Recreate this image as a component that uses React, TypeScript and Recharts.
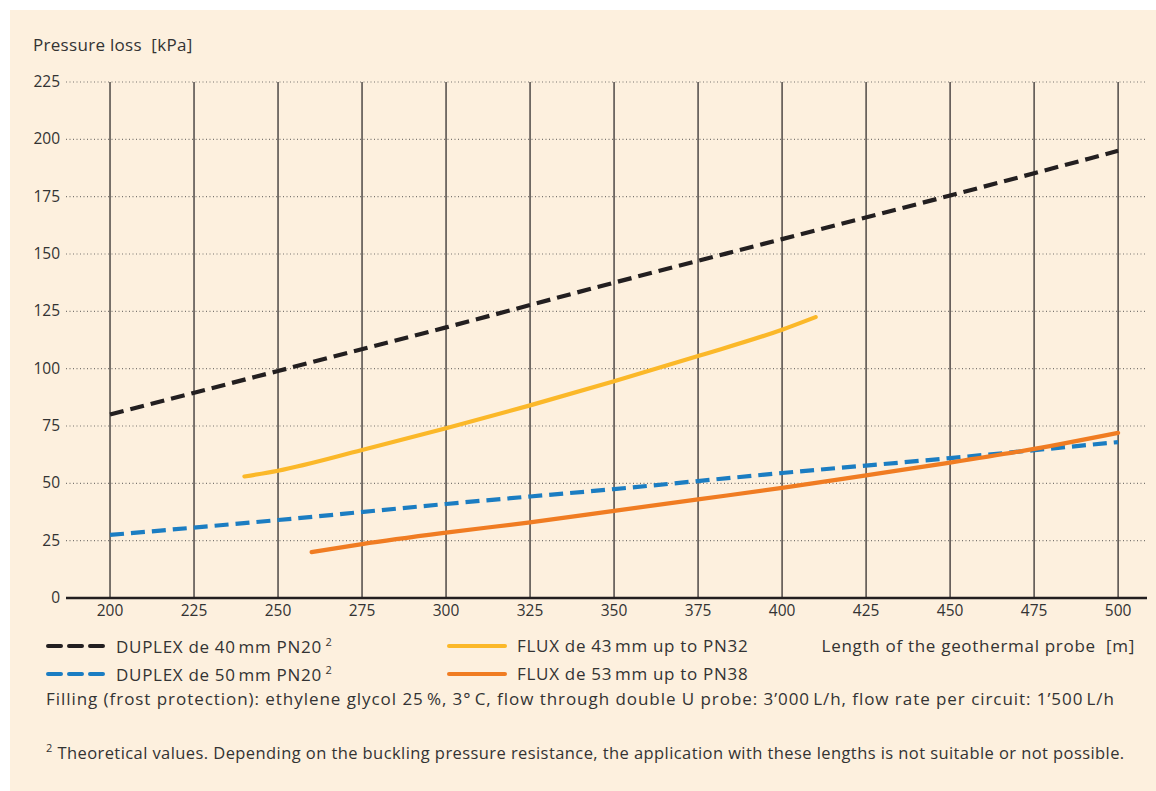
import { LineChart, Line, XAxis, YAxis, ReferenceLine } from "recharts";

const xTicks = [200, 225, 250, 275, 300, 325, 350, 375, 400, 425, 450, 475, 500];
const yTicks = [0, 25, 50, 75, 100, 125, 150, 175, 200, 225];

const duplex40 = [
  { x: 200, y: 80 },
  { x: 250, y: 99 },
  { x: 300, y: 118 },
  { x: 350, y: 137.5 },
  { x: 400, y: 156.5 },
  { x: 450, y: 175.5 },
  { x: 500, y: 195 },
];
const duplex50 = [
  { x: 200, y: 27.5 },
  { x: 250, y: 34 },
  { x: 300, y: 41 },
  { x: 350, y: 47.5 },
  { x: 400, y: 54.5 },
  { x: 450, y: 61 },
  { x: 500, y: 68 },
];
const flux43 = [
  { x: 240, y: 53 },
  { x: 250, y: 55.5 },
  { x: 275, y: 64.5 },
  { x: 300, y: 74 },
  { x: 325, y: 84 },
  { x: 350, y: 94.5 },
  { x: 375, y: 105.5 },
  { x: 400, y: 117 },
  { x: 410, y: 122.5 },
];
const flux53 = [
  { x: 260, y: 20 },
  { x: 275, y: 23.5 },
  { x: 300, y: 28.5 },
  { x: 325, y: 33 },
  { x: 350, y: 38 },
  { x: 375, y: 43 },
  { x: 400, y: 48 },
  { x: 425, y: 53.5 },
  { x: 450, y: 59 },
  { x: 475, y: 65 },
  { x: 500, y: 72 },
];

const BG = "#fdf0de";
const TXT = "#333333";
const FONT = "'Open Sans', sans-serif";
const BLACK = "#231f20";
const BLUE = "#1b7dc2";
const YELLOW = "#fbb829";
const ORANGE = "#f07c22";

function LegendLine({ color, dashed }: { color: string; dashed?: boolean }) {
  return (
    <svg width={60} height={8} style={{ position: "absolute", left: -70, top: 8 }}>
      <line
        x1={2}
        y1={4}
        x2={58}
        y2={4}
        stroke={color}
        strokeWidth={4}
        strokeLinecap="round"
        strokeDasharray={dashed ? "13 8" : undefined}
      />
    </svg>
  );
}

export default function App() {
  const txt = {
    position: "absolute" as const,
    fontFamily: FONT,
    fontSize: 17,
    letterSpacing: 0.7,
    color: TXT,
    whiteSpace: "nowrap" as const,
  };
  return (
    <div style={{ position: "fixed", left: 0, top: 0, width: 1156, height: 791, background: "#fff" }}>
      <div style={{ position: "absolute", left: 10, top: 10, width: 1146, height: 781, background: BG }} />
      <div style={{ ...txt, left: 33, top: 33, letterSpacing: 0.3 }}>Pressure loss&nbsp; [kPa]</div>
      <div style={{ position: "absolute", left: 0, top: 0 }}>
        <LineChart width={1156} height={791} data={duplex40} margin={{ top: 82, right: 9, bottom: 163, left: 66 }}>
          <XAxis
            type="number"
            dataKey="x"
            domain={[186.9, 508.6]}
            ticks={xTicks}
            allowDataOverflow
            axisLine={{ stroke: BLACK, strokeWidth: 2.6 }}
            tickLine={false}
            height={30}
            tick={(p: any) => (
              <text x={p.x} y={p.y + 10} textAnchor="middle" fontFamily={FONT} fontSize={15.5} fill={TXT}>
                {p.payload.value}
              </text>
            )}
          />
          <YAxis type="number" domain={[0, 225]} ticks={yTicks} hide />
          {yTicks.map((v) => (
            <ReferenceLine
              key={"y" + v}
              y={v}
              stroke="#7a7570"
              strokeDasharray="1 2.5"
              strokeWidth={1.2}
              label={(p: any) => (
                <text
                  x={p.viewBox.x - 6}
                  y={p.viewBox.y + 5}
                  textAnchor="end"
                  fontFamily={FONT}
                  fontSize={15.5}
                  fill={TXT}
                >
                  {v}
                </text>
              )}
            />
          ))}
          {xTicks.map((v) => (
            <ReferenceLine key={"x" + v} x={v} stroke={BLACK} strokeWidth={1.2} />
          ))}
          <Line data={duplex50} dataKey="y" stroke={BLUE} strokeWidth={4.2} strokeDasharray="14 7" dot={false} isAnimationActive={false} type="monotone" />
          <Line data={flux53} dataKey="y" stroke={ORANGE} strokeWidth={4.2} strokeLinecap="round" dot={false} isAnimationActive={false} type="monotone" />
          <Line data={flux43} dataKey="y" stroke={YELLOW} strokeWidth={4.2} strokeLinecap="round" dot={false} isAnimationActive={false} type="monotone" />
          <Line data={duplex40} dataKey="y" stroke={BLACK} strokeWidth={4.2} strokeDasharray="14 7" dot={false} isAnimationActive={false} type="monotone" />
        </LineChart>
      </div>
      <div style={{ ...txt, left: 116, top: 634 }}>
        <LegendLine color={BLACK} dashed />
        DUPLEX de 40&#8239;mm PN20<sup style={{ fontSize: 11 }}>&nbsp;2</sup>
      </div>
      <div style={{ ...txt, left: 116, top: 662 }}>
        <LegendLine color={BLUE} dashed />
        DUPLEX de 50&#8239;mm PN20<sup style={{ fontSize: 11 }}>&nbsp;2</sup>
      </div>
      <div style={{ ...txt, left: 517, top: 634 }}>
        <LegendLine color={YELLOW} />
        FLUX de 43&#8239;mm up to PN32
      </div>
      <div style={{ ...txt, left: 517, top: 662 }}>
        <LegendLine color={ORANGE} />
        FLUX de 53&#8239;mm up to PN38
      </div>
      <div style={{ ...txt, right: 21, top: 634 }}>Length of the geothermal probe&nbsp; [m]</div>
      <div style={{ ...txt, left: 46, top: 687, letterSpacing: 0.95 }}>
        Filling (frost protection): ethylene glycol 25&#8239;%, 3°&#8239;C, flow through double U probe: 3’000&#8239;L/h, flow rate per circuit: 1’500&#8239;L/h
      </div>
      <div style={{ ...txt, left: 46, top: 740, fontSize: 16.5, letterSpacing: 0.42 }}>
        <sup style={{ fontSize: 11 }}>2</sup> Theoretical values. Depending on the buckling pressure resistance, the application with these lengths is not suitable or not possible.
      </div>
    </div>
  );
}
